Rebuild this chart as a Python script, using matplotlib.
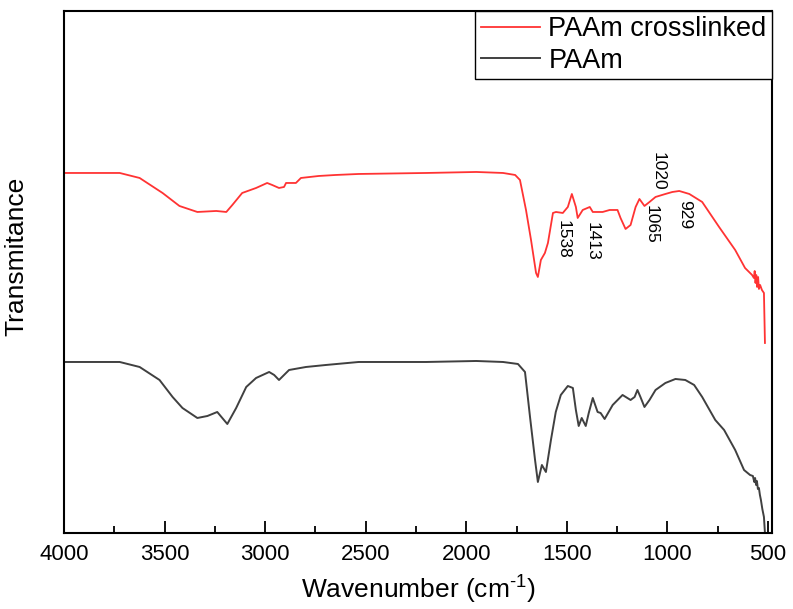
import numpy as np
import matplotlib.pyplot as plt

plt.rcParams['font.family'] = ['Liberation Sans', 'DejaVu Sans']
plt.rcParams['mathtext.fontset'] = 'custom'
plt.rcParams['mathtext.rm'] = 'Liberation Sans'
plt.rcParams['mathtext.it'] = 'Liberation Sans'

# FTIR spectra (arbitrary transmittance units, curves offset for clarity)
wn_cross = [4000, 3850, 3723, 3624, 3510, 3426, 3337, 3243, 3193, 3163, 3114, 3045,
            2990, 2965, 2931, 2906, 2896, 2866, 2847, 2822, 2733, 2649, 2535, 2200,
            1950, 1817, 1757, 1733, 1703, 1678, 1653, 1644, 1629, 1609, 1594, 1569,
            1554, 1520, 1495, 1475, 1455, 1446, 1421, 1386, 1371, 1322, 1287, 1248,
            1233, 1208, 1183, 1158, 1139, 1114, 1089, 1059, 1010, 975, 941, 891,
            827, 743, 663, 614, 579, 570, 566, 562, 558, 554, 549, 545, 539, 530,
            520, 515]
t_cross = [360, 360, 360, 355, 340, 327, 321, 322, 321, 328, 340, 345,
           350, 348, 345, 346, 350, 350, 350, 355, 357, 358, 359, 360,
           361, 360, 358, 353, 323, 293, 260, 256, 273, 280, 290, 320,
           321, 320, 326, 339, 326, 315, 323, 326, 321, 321, 323, 323,
           315, 304, 308, 326, 334, 327, 331, 336, 339, 341, 342, 339,
           331, 306, 283, 265, 258, 255, 262, 250, 258, 246, 256, 244, 248, 243,
           240, 190]

wn_paam = [4000, 3850, 3723, 3624, 3525, 3460, 3411, 3337, 3287, 3238, 3213, 3188,
           3144, 3094, 3045, 2980, 2955, 2931, 2906, 2881, 2797, 2698, 2535, 2200,
           1950, 1817, 1743, 1708, 1683, 1658, 1644, 1624, 1604, 1579, 1555, 1530,
           1495, 1470, 1455, 1441, 1426, 1406, 1391, 1371, 1347, 1332, 1312, 1272,
           1223, 1183, 1163, 1149, 1134, 1114, 1089, 1059, 1010, 960, 911, 867,
           827, 762, 718, 663, 619, 589, 575, 568, 564, 559, 555, 550, 545, 540,
           535, 528, 520, 515]
t_paam = [171, 171, 171, 166, 153, 136, 125, 115, 117, 121, 115, 109,
          125, 146, 155, 161, 158, 153, 158, 163, 166, 168, 171, 171,
          172, 171, 169, 161, 116, 73, 51, 68, 61, 93, 121, 138,
          147, 145, 123, 107, 115, 107, 120, 135, 121, 120, 114, 128,
          138, 133, 136, 143, 136, 126, 133, 143, 150, 154, 153, 148,
          136, 113, 103, 83, 63, 58, 57, 51, 55, 48, 52, 44, 45, 38,
          33, 24, 16, 0]

peak_labels = ['1538', '1413', '1065', '1020', '929']
label_x = [1520, 1376, 1079, 1045, 915]
label_y = [313, 311, 328, 381, 333]

fig = plt.figure(figsize=(7.93, 6.09), dpi=100)
ax = fig.add_axes([0.0807, 0.1248, 0.8928, 0.8572])

ax.plot(wn_cross, t_cross, color='#ff3333', lw=1.3, label='PAAm crosslinked')
ax.plot(wn_paam, t_paam, color='#404040', lw=1.4, label='PAAm')

for txt, x, y in zip(peak_labels, label_x, label_y):
    ax.text(x, y, txt, rotation=270, ha='center', va='top', fontsize=12.5)

ax.set_xlim(4000, 480)
ax.set_ylim(0, 522)
ax.set_xticks([4000, 3500, 3000, 2500, 2000, 1500, 1000, 500])
ax.set_xticks(np.arange(3750, 480, -500), minor=True)
ax.set_yticks([])
ax.tick_params(axis='x', which='major', direction='in', length=9, width=1.3,
               labelsize=16, pad=8)
ax.tick_params(axis='x', which='minor', direction='in', length=5, width=1.3)
for s in ax.spines.values():
    s.set_linewidth(1.5)

ax.set_xlabel(r'Wavenumber (cm$^{\text{-}1}$)', fontsize=19, labelpad=6)
ax.set_ylabel('Transmitance', fontsize=19)
ax.yaxis.set_label_coords(-0.05, 0.53)

leg = ax.legend(loc='upper right', fontsize=19.5, frameon=True, fancybox=False,
                borderaxespad=0, handlelength=2.2, handletextpad=0.3,
                labelspacing=0.2, borderpad=0.2)
leg.get_frame().set_edgecolor('black')
leg.get_frame().set_linewidth(1.0)
leg.get_frame().set_alpha(1)

fig.savefig('out.png', dpi=100)
